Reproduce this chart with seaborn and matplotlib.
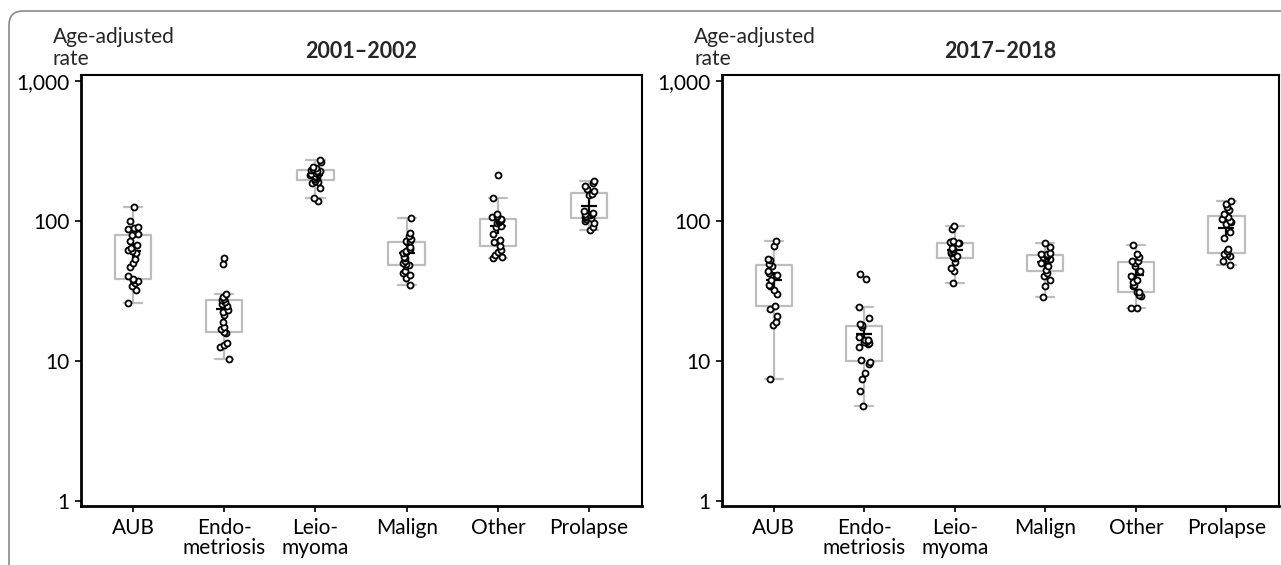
import matplotlib.pyplot as plt
import numpy as np
import pandas as pd
import seaborn as sns
from matplotlib.patches import FancyBboxPatch
from matplotlib.ticker import FixedLocator, FuncFormatter, NullLocator
from matplotlib.transforms import IdentityTransform

categories = ["AUB", "Endometriosis", "Leiomyoma", "Malign", "Other", "Prolapse"]
tick_labels = ["AUB", "Endo-\nmetriosis", "Leio-\nmyoma", "Malign", "Other", "Prolapse"]
periods = ["2001\u20132002", "2017\u20132018"]
y_ticks = [1, 10, 100, 1000]

# age-adjusted rates, 2001-2002
aub_2001 = [26.1, 31.9, 34.6, 36.0, 37.4, 38.0, 38.7, 40.3, 46.8, 50.3, 53.7, 59.2,
            60.8, 62.3, 63.9, 67.5, 71.6, 79.5, 81.0, 87.3, 88.7, 90.0, 100.7, 125.0]
endo_2001 = [10.4, 12.5, 12.9, 13.4, 15.8, 16.0, 17.0, 17.5, 19.0, 21.2, 22.4,
             23.2, 24.9, 25.7, 26.4, 27.1, 27.8, 28.6, 29.9, 49.5, 54.6]
leio_2001 = [140, 146, 172, 188, 191, 193, 199, 203, 207, 210, 213, 216, 218, 220,
             223, 226, 229, 231, 234, 238, 245, 262, 272]
malign_2001 = [34.7, 39.3, 41.3, 42.4, 43.8, 47.6, 48.5, 49.5, 50.0, 52.2, 54.6, 55.7,
               59.3, 60.5, 61.5, 63.3, 65.0, 71.0, 72.0, 72.5, 74.5, 78.0, 82.3, 104.5]
other_2001 = [54.6, 55.1, 57.6, 59.8, 62.3, 66.8, 70.5, 73.3, 80.9, 90.2, 92.7, 96.3,
              98.0, 100.7, 101.5, 103.4, 106.0, 109.0, 112.0, 145.0, 212.0]
prolapse_2001 = [86.0, 90.2, 96.3, 100.7, 103.4, 105.0, 107.5, 108.0, 110.0, 112.4,
                 113.0, 115.0, 118.0, 153.6, 156.0, 163.0, 169.0, 179.0, 186.0, 194.0]

# 2017-2018
aub_2017 = [7.45, 18.1, 19.1, 21.0, 23.7, 24.8, 30.1, 32.0, 34.5, 35.1, 37.7, 41.4,
            42.6, 43.8, 48.0, 48.9, 52.3, 53.1, 66.4, 71.7]
endo_2017 = [4.78, 6.14, 7.45, 8.19, 9.45, 9.9, 10.2, 12.5, 13.3, 13.5, 13.7, 13.9,
             14.1, 14.1, 14.1, 14.9, 17.6, 18.0, 18.4, 20.2, 24.5, 38.6, 41.9]
leio_2017 = [36.1, 44.2, 46.3, 50.9, 54.6, 55.0, 56.1, 58.7, 60.0, 61.1, 63.4, 64.5,
             70.0, 70.2, 70.5, 72.1, 87.4, 92.8]
malign_2017 = [28.6, 34.2, 37.7, 40.4, 42.2, 45.0, 47.7, 50.3, 52.6, 53.5, 54.6, 55.5,
               56.1, 57.0, 57.7, 58.0, 59.4, 65.6, 70.2]
other_2017 = [24.1, 24.1, 29.0, 29.7, 30.9, 30.9, 34.5, 35.1, 36.5, 38.1, 40.4, 43.8,
              47.7, 50.0, 51.7, 52.0, 55.6, 57.7, 67.5]
prolapse_2017 = [48.4, 52.0, 56.1, 57.7, 58.0, 61.1, 63.4, 75.0, 82.8, 95.0, 98.8,
                 100.0, 103.0, 106.0, 112.0, 119.0, 125.0, 132.0, 140.0]

groups = {
    periods[0]: [aub_2001, endo_2001, leio_2001, malign_2001, other_2001, prolapse_2001],
    periods[1]: [aub_2017, endo_2017, leio_2017, malign_2017, other_2017, prolapse_2017],
}
rows = []
for period, lists in groups.items():
    for cat, values in zip(categories, lists):
        rows += [{"period": period, "category": cat, "rate": v} for v in values]
df = pd.DataFrame(rows)

BOX_GREY = "#bdbdbd"
W, H = 1281, 565

sns.set_style("ticks")
plt.rcParams["font.family"] = ["Lato", "DejaVu Sans"]

fig = plt.figure(figsize=(W / 100, H / 100), dpi=100)

# rounded frame around the whole figure (cropped at right and bottom)
frame = FancyBboxPatch(
    (9, -40), 1400, H - 11 + 40,
    boxstyle="round,pad=0,rounding_size=14",
    transform=IdentityTransform(), fill=False, edgecolor="#8a8a8a", linewidth=1.2,
)
fig.patches.append(frame)

ax_spans = [(81, 642), (722, 1279)]
np.random.seed(7)
for (x0, x1), period in zip(ax_spans, periods):
    ax = fig.add_axes([x0 / W, 1 - 506 / H, (x1 - x0) / W, (506 - 75) / H])
    sub = df[df["period"] == period]
    sns.boxplot(
        data=sub, x="category", y="rate", order=categories, ax=ax,
        width=0.4, fill=False, color=BOX_GREY, linewidth=1.6,
        showfliers=False, showmeans=True,
        meanprops={"marker": "+", "markeredgecolor": "black",
                   "markersize": 11, "markeredgewidth": 1.6},
        medianprops={"linewidth": 0},
    )
    sns.stripplot(
        data=sub, x="category", y="rate", order=categories, ax=ax,
        jitter=0.06, size=4.3, color="white", edgecolor="black", linewidth=1.3,
    )
    ax.set_yscale("log")
    ax.set_ylim(10 ** -0.036, 10 ** 3.043)
    ax.set_xlim(-0.57, 5.58)
    ax.yaxis.set_major_locator(FixedLocator(y_ticks))
    ax.yaxis.set_minor_locator(NullLocator())
    ax.yaxis.set_major_formatter(FuncFormatter(lambda v, _: f"{v:,.0f}"))
    ax.set_xticks(range(len(categories)))
    ax.set_xticklabels(tick_labels, linespacing=0.95)
    ax.set_xlabel("")
    ax.set_ylabel("")
    ax.tick_params(axis="both", length=4, width=1.2, color="black",
                   labelsize=15, labelcolor="black")
    ax.tick_params(axis="x", pad=5)
    ax.tick_params(axis="y", pad=4)
    for side in ["left", "bottom"]:
        ax.spines[side].set_linewidth(2.0)
    for side in ["top", "right"]:
        ax.spines[side].set_linewidth(1.5)
    for sp in ax.spines.values():
        sp.set_color("black")
        sp.set_visible(True)
    ax.set_title(period, fontweight="bold", fontsize=15.5, pad=12)
    ax.annotate("Age-adjusted\nrate", xy=(0, 1), xycoords="axes fraction",
                xytext=(-28, 48), textcoords="offset pixels",
                ha="left", va="top", fontsize=15, linespacing=1.12)

fig.savefig("out.png", dpi=100)
